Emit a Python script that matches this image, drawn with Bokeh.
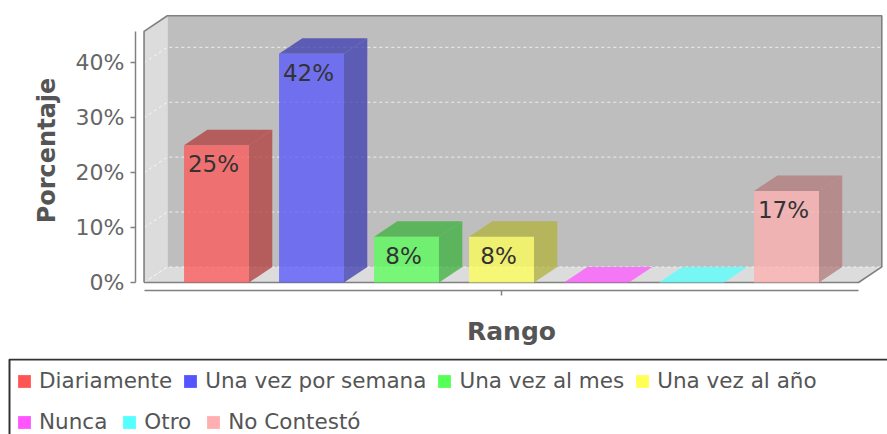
from bokeh.plotting import figure
from bokeh.layouts import column, row
from bokeh.models import Range1d, LinearAxis, FixedTicker, Legend, LegendItem, ColumnDataSource
from bokeh.core.properties import value
from bokeh.embed import file_html
from bokeh.resources import INLINE

categories = ["Diariamente", "Una vez por semana", "Una vez al mes", "Una vez al año",
              "Nunca", "Otro", "No Contestó"]
percentages = [25.0, 41.67, 8.33, 8.33, 0.0, 0.0, 16.67]
bar_labels = ["25%", "42%", "8%", "8%", "", "", "17%"]
colors = ["#FF5555", "#5555FF", "#55FF55", "#FFFF55", "#FF55FF", "#55FFFF", "#FFAFAF"]
dark_colors = ["#B23B3B", "#3B3BB2", "#3BB23B", "#B2B23B", "#B23BB2", "#3BB2B2", "#B27A7A"]
y_ticks = [0, 10, 20, 30, 40]
y_tick_labels = ["0%", "10%", "20%", "30%", "40%"]
x_title = "Rango"
y_title = "Porcentaje"

# 3D box geometry, in data units
DX, DY = 0.245, 2.83
HALF = 0.342
X_L, X_R = -0.763, 6.758
Y_T = 45.75
FONT = "DejaVu Sans"
EDGE = "#808080"

p = figure(width=887, height=358, output_backend="svg", toolbar_location=None,
           x_range=Range1d(-0.853, 7.063), y_range=Range1d(-1.46, 49.54),
           x_axis_type=None, y_axis_type=None,
           min_border_left=135, min_border_right=0, min_border_top=10, min_border_bottom=68,
           outline_line_color=None, background_fill_color="white")
p.grid.visible = False

# walls and floor
p.patch([X_L + DX, X_R + DX, X_R + DX, X_L + DX], [DY, DY, Y_T + DY, Y_T + DY],
        fill_color="#BEBEBE", line_color=None)
p.patch([X_L, X_L + DX, X_L + DX, X_L], [0, DY, Y_T + DY, Y_T],
        fill_color="#DCDCDC", line_color=None)
p.patch([X_L, X_R, X_R + DX, X_L + DX], [0, 0, DY, DY],
        fill_color="#DCDCDC", line_color=None)

# gridlines
for t in y_ticks:
    p.line([X_L, X_L + DX, X_R + DX], [t, t + DY, t + DY],
           line_color="white", line_dash="3 3", line_width=1, line_alpha=0.75)

# frame lines
p.line([X_L, X_L, X_L + DX, X_R + DX, X_R + DX, X_R, X_L],
       [0, Y_T, Y_T + DY, Y_T + DY, DY, 0, 0], line_color=EDGE, line_width=1.6)

# bars
for i, v in enumerate(percentages):
    l, r = i - HALF, i + HALF
    top_color = dark_colors[i] if v > 0 else colors[i]
    p.patch([l, r, r + DX, l + DX], [v, v, v + DY, v + DY],
            fill_color=top_color, fill_alpha=0.75, line_color=None)
    if v > 0:
        p.patch([r, r + DX, r + DX, r], [0, DY, v + DY, v],
                fill_color=dark_colors[i], fill_alpha=0.75, line_color=None)
        p.patch([l, r, r, l], [0, 0, v, v],
                fill_color=colors[i], fill_alpha=0.75, line_color=None)

# value labels
idx = [i for i, v in enumerate(percentages) if v > 0]
src = ColumnDataSource(dict(x=idx, y=[percentages[i] for i in idx], t=[bar_labels[i] for i in idx]))
p.text(x="x", y="y", text="t", source=src, text_font=value(FONT), text_font_size="23px",
       text_color="#333333", text_align="center", text_baseline="middle", x_offset=-3, y_offset=19)

# axes
yax = LinearAxis(ticker=FixedTicker(ticks=y_ticks), bounds=(0, Y_T),
                 major_label_overrides=dict(zip(y_ticks, y_tick_labels)),
                 major_label_text_font=FONT, major_label_text_font_size="22px",
                 major_label_text_color="#666666", major_label_standoff=6,
                 major_tick_in=0, major_tick_out=5, major_tick_line_color=EDGE, major_tick_line_width=1.5,
                 axis_line_color=EDGE, axis_line_width=1.5)
p.add_layout(yax, "left")
ylab = LinearAxis(ticker=FixedTicker(ticks=[]), axis_line_color=None,
                  major_tick_line_color=None, axis_label=y_title, axis_label_standoff=12,
                  axis_label_text_font=FONT, axis_label_text_font_size="24px",
                  axis_label_text_font_style="bold", axis_label_text_color="#555555")
p.add_layout(ylab, "left")

xax = LinearAxis(ticker=FixedTicker(ticks=[3]), bounds=(X_L, X_R),
                 major_label_overrides={3: " "}, major_label_text_font_size="1px",
                 major_tick_in=0, major_tick_out=5, major_tick_line_color=EDGE, major_tick_line_width=1.5,
                 axis_line_color=EDGE, axis_line_width=1.5)
p.add_layout(xax, "below")
xlab = LinearAxis(ticker=FixedTicker(ticks=[]), axis_line_color=None,
                  major_tick_line_color=None, axis_label=x_title, axis_label_standoff=12,
                  axis_label_text_font=FONT, axis_label_text_font_size="25px",
                  axis_label_text_font_style="bold", axis_label_text_color="#555555")
p.add_layout(xlab, "below")

# legend panel
q = figure(width=887, height=76, output_backend="svg", toolbar_location=None,
           x_range=Range1d(0, 887), y_range=Range1d(76, 0), x_axis_type=None, y_axis_type=None,
           min_border_left=0, min_border_right=0, min_border_top=0, min_border_bottom=0,
           outline_line_color=None)
q.grid.visible = False
q.line([9, 9, 900], [100, 1, 1], line_color="#333333", line_width=2)
swatches = [q.quad(left=[1000], right=[1001], top=[1000], bottom=[1001], fill_color=c, line_color=None)
            for c in colors]
def make_legend(ids, x, y, gap):
    lg = Legend(items=[LegendItem(label=categories[i], renderers=[swatches[i]]) for i in ids],
                orientation="horizontal", location=(x, y), margin=0, padding=0, spacing=gap,
                glyph_width=16, glyph_height=16, label_standoff=7,
                label_text_font=FONT, label_text_font_size="21.5px", label_text_color="#555555",
                background_fill_alpha=0, border_line_color=None)
    q.add_layout(lg, "center")
make_legend([0, 1, 2, 3], 16, 41, 10)
make_legend([4, 5, 6], 16, 0, 14)

open("out.html", "w").write(file_html(column(p, row(q), spacing=0), INLINE))
